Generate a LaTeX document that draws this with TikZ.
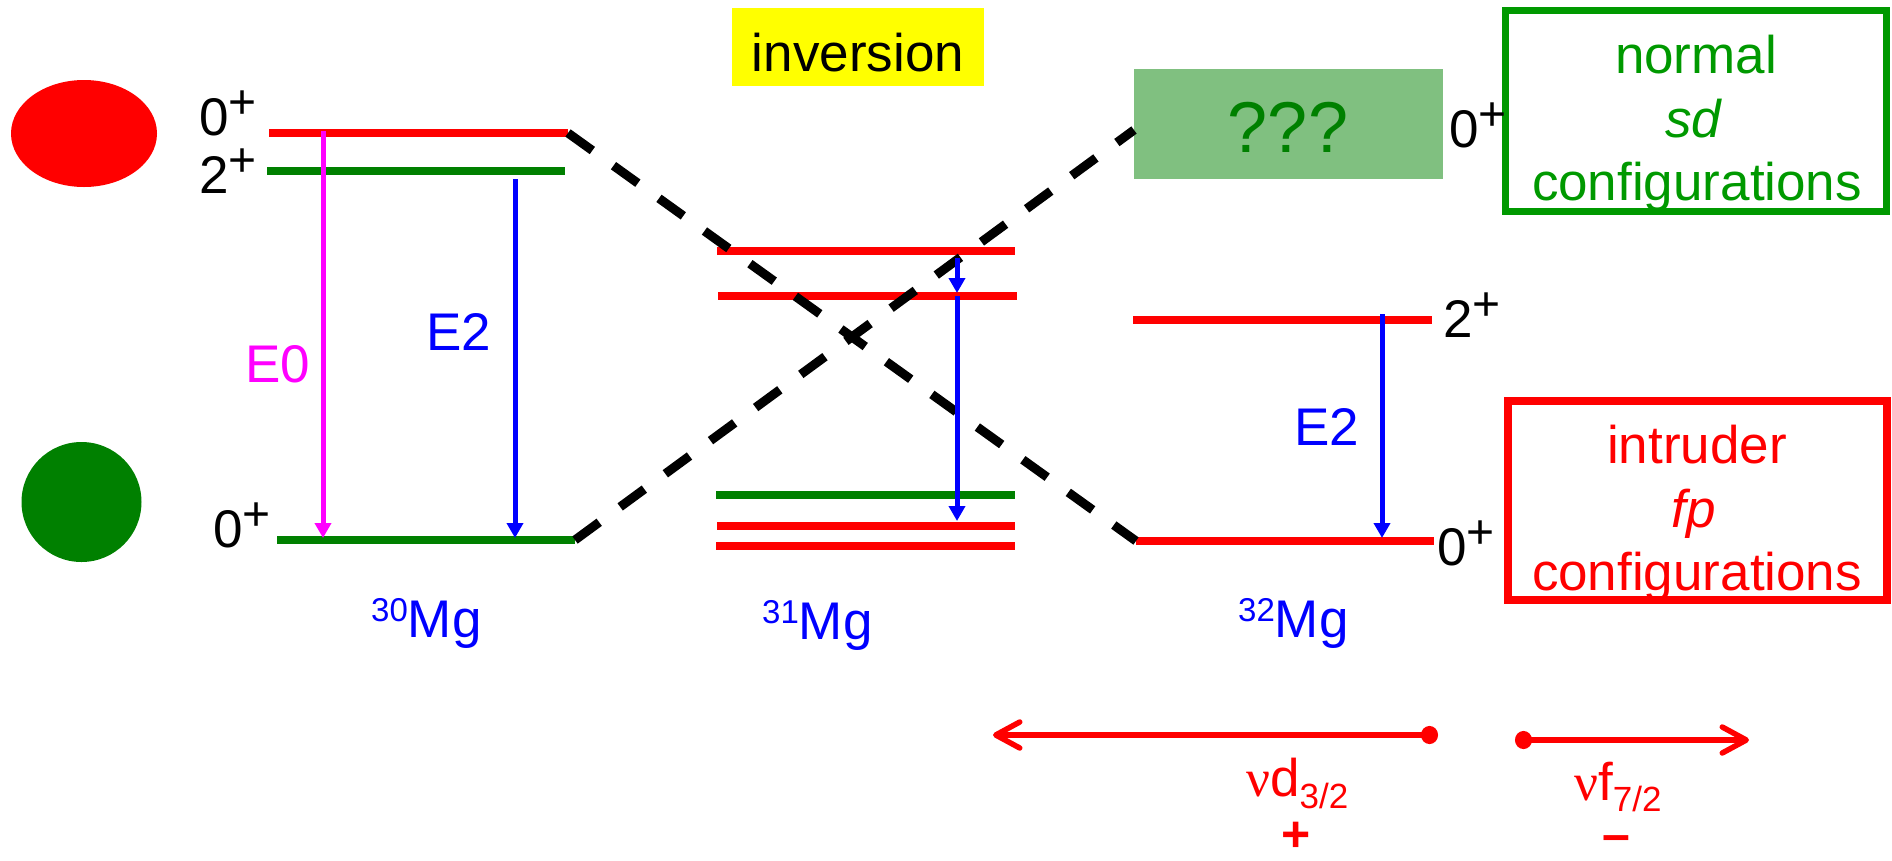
\documentclass[tikz,border=0pt]{standalone}
\usepackage{fontspec}
\setmainfont{Liberation Sans}
\newfontfamily\nufont{Liberation Serif}
\usetikzlibrary{arrows.meta,shapes.geometric}
\definecolor{lvred}{HTML}{FF0000}
\definecolor{lvgreen}{HTML}{008000}
\definecolor{boxgreen}{HTML}{009900}
\definecolor{qfill}{HTML}{80C080}
\definecolor{tblue}{HTML}{0000FF}
\definecolor{tmag}{HTML}{FF00FF}
\definecolor{ylw}{HTML}{FFFF00}
\newcommand{\fsz}[1]{\fontsize{#1}{#1}\selectfont}
\newcommand{\jpi}[1]{#1\raisebox{17pt}{\fsz{48}+}}
\newcommand{\iso}[2]{\raisebox{16pt}{\fsz{33}#1}#2}
\begin{document}
\begin{tikzpicture}[x=1pt,y=-1pt,
  lvl/.style={line width=7.5pt},
  lab/.style={anchor=base west, inner sep=0pt, font=\fsz{53}},
  ctr/.style={anchor=base, inner sep=0pt, font=\fsz{53}},
  dashx/.style={line width=9pt, dash pattern=on 30pt off 26pt, black},
  trans/.style={line width=5pt, -{Triangle[length=15pt,width=16pt]}},
  orb/.style={line width=5.5pt, lvred, {Circle[length=17pt,width=18pt]}-{Straight Barb[length=24pt,width=26pt,round]}}
  ]
\useasboundingbox (0,0) rectangle (1892,860);

% balls
\node[ellipse, fill=lvred, inner sep=0pt, minimum width=146pt, minimum height=107pt] (redball) at (84,133.5) {};
\node[circle, fill=lvgreen, inner sep=0pt, minimum size=120pt] (greenball) at (81.5,502) {};

% inversion
\node[fill=ylw, inner sep=0pt, minimum width=252pt, minimum height=78pt] (invbox) at (858,47) {};
\node[ctr] (invtext) at (858,71) {inversion};

% ??? box
\node[fill=qfill, inner sep=0pt, minimum width=309pt, minimum height=110pt] (qbox) at (1288.5,124) {};
\node[ctr, font=\fsz{72}, text=lvgreen] (qtext) at (1288,152) {???};

% configuration boxes
\node[draw=boxgreen, line width=7pt, inner sep=0pt, minimum width=380.5pt, minimum height=200.5pt] (normbox) at (1695.75,110.75) {};
\node[ctr, text=boxgreen] (norm1) at (1696,73) {normal};
\node[ctr, text=boxgreen] (norm2) at (1693,137) {\itshape sd};
\node[ctr, text=boxgreen] (norm3) at (1697,200) {configurations};
\node[draw=lvred, line width=8pt, inner sep=0pt, minimum width=379pt, minimum height=199pt] (intrbox) at (1697.5,500.5) {};
\node[ctr, text=lvred] (intr1) at (1697,463) {intruder};
\node[ctr, text=lvred] (intr2) at (1694,527) {\itshape fp};
\node[ctr, text=lvred] (intr3) at (1697,590) {configurations};

% level coordinates
\coordinate (a0L) at (269,133);  \coordinate (a0R) at (568,133);
\coordinate (a2L) at (267,171);  \coordinate (a2R) at (565,171);
\coordinate (agL) at (277,540);  \coordinate (agR) at (575,540);
\coordinate (b1L) at (717,251);  \coordinate (b1R) at (1015,251);
\coordinate (b2L) at (718,296);  \coordinate (b2R) at (1017,296);
\coordinate (b3L) at (716,495);  \coordinate (b3R) at (1015,495);
\coordinate (b4L) at (717,526);  \coordinate (b4R) at (1015,526);
\coordinate (b5L) at (716,546);  \coordinate (b5R) at (1015,546);
\coordinate (c2L) at (1133,320); \coordinate (c2R) at (1432,320);
\coordinate (cgL) at (1136,541); \coordinate (cgR) at (1434,541);
\coordinate (qL) at (1134,130);

% levels
\draw[lvl, lvred]   (a0L) -- (a0R);
\draw[lvl, lvgreen] (a2L) -- (a2R);
\draw[lvl, lvgreen] (agL) -- (agR);
\draw[lvl, lvred]   (b1L) -- (b1R);
\draw[lvl, lvred]   (b2L) -- (b2R);
\draw[lvl, lvgreen] (b3L) -- (b3R);
\draw[lvl, lvred]   (b4L) -- (b4R);
\draw[lvl, lvred]   (b5L) -- (b5R);
\draw[lvl, lvred]   (c2L) -- (c2R);
\draw[lvl, lvred]   (cgL) -- (cgR);

% dashed correlation lines
\draw[dashx] (a0R) -- (cgL);
\draw[dashx] (agR) -- (qL);

% transitions
\coordinate (e0s) at (323,131); \coordinate (e0e) at (323,538);
\coordinate (e2s) at (515,179); \coordinate (e2e) at (515,538);
\coordinate (m1s) at (957,258); \coordinate (m1e) at (957,293);
\coordinate (m2s) at (957,296); \coordinate (m2e) at (957,521);
\coordinate (r2s) at (1382,314); \coordinate (r2e) at (1382,538);
\draw[trans, tmag]  (e0s) -- (e0e);
\draw[trans, tblue] (e2s) -- (e2e);
\draw[trans, tblue] (m1s) -- (m1e);
\draw[trans, tblue] (m2s) -- (m2e);
\draw[trans, tblue] (r2s) -- (r2e);

% spin labels
\node[lab] (l30a) at (199,135) {\jpi{0}};
\node[lab] (l30b) at (199,193) {\jpi{2}};
\node[lab] (l30c) at (213,547) {\jpi{0}};
\node[lab] (l32a) at (1449,147) {\jpi{0}};
\node[lab] (l32b) at (1443,337) {\jpi{2}};
\node[lab] (l32c) at (1437,565) {\jpi{0}};

% transition labels
\node[lab, text=tmag]  (le0) at (245,382) {E0};
\node[lab, text=tblue] (le2a) at (426,350) {E2};
\node[lab, text=tblue] (le2b) at (1294,445) {E2};

% isotope labels
\node[lab, text=tblue] (mg30) at (371,637) {\iso{30}{Mg}};
\node[lab, text=tblue] (mg31) at (762,639) {\iso{31}{Mg}};
\node[lab, text=tblue] (mg32) at (1238,637) {\iso{32}{Mg}};

% orbital arrows
\coordinate (dL) at (1438,735); \coordinate (tL) at (993,735);
\coordinate (dR) at (1515,740); \coordinate (tR) at (1749,740);
\draw[orb] (dL) -- (tL);
\draw[orb] (dR) -- (tR);
\node[lab, text=lvred] (nud) at (1246,796) {{\nufont ν}d\raisebox{-12pt}{\fsz{35}3/2}};
\node[lab, text=lvred] (nuf) at (1574,800) {{\nufont ν}f\raisebox{-11pt}{\fsz{35}7/2}};
\node[ctr, text=lvred, font=\fsz{50}\bfseries] (plus) at (1296,851) {+};
\node[ctr, text=lvred, font=\fsz{50}\bfseries] (minus) at (1616,851) {–};
\end{tikzpicture}
\end{document}
